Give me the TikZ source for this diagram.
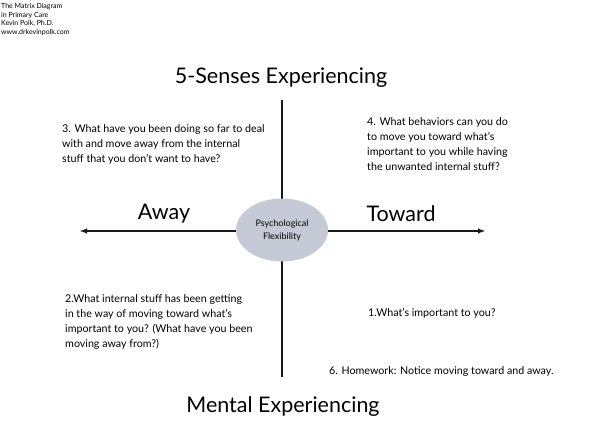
\documentclass[tikz,border=0pt]{standalone}
\usepackage{fontspec}
\setmainfont{Lato}
\usetikzlibrary{shapes.geometric}
\definecolor{flexgray}{HTML}{C5CAD6}
\tikzset{
  axis/.style={line width=1.4pt,black!90},
  heading/.style={font=\fontsize{21.5}{24}\selectfont},
  quest/.style={align=left,anchor=north west,inner sep=0pt,font=\fontsize{10.7}{15}\selectfont},
}
\begin{document}
\begin{tikzpicture}[x=1pt,y=-1pt]
			\useasboundingbox (0,0) rectangle (610,441);
			%coordinates
			\coordinate (L) at (80,231);
			\coordinate (R) at (485,231);
			\coordinate (T) at (282,100);
			\coordinate (B) at (282,377);
			%Credits
			\node[align=left,anchor=north west,inner sep=0pt,font=\fontsize{7}{8.8}\selectfont] (credit) at (1,3)
				{The Matrix Diagram\\in Primary Care\\Kevin Polk, Ph.D.\\www.drkevinpolk.com};
			%Axes
			\begin{scope}
				\draw[axis] (T) -- (B);
				\draw[axis,latex-latex] (L) -- (R);
			\end{scope}
			%Centre
			\node[ellipse,fill=flexgray,minimum width=92pt,minimum height=63pt,inner sep=0pt,align=center,font=\fontsize{9}{13}\selectfont] (flex) at (282,230) {Psychological\\Flexibility};
			%Headings
			\node[heading] (senses) at (281,78) {5-Senses Experiencing};
			\node[heading] (mental) at (283,407) {Mental Experiencing};
			\node[heading] (away) at (164,214) {Away};
			\node[heading] (toward) at (401,214) {Toward};
			%Questions
			\node[quest] (q3) at (62,124) {3. What have you been doing so far to deal\\with and move away from the internal\\stuff that you don't want to have?};
			\node[quest] (q4) at (367,117) {4. What behaviors can you do\\to move you toward what's\\important to you while having\\the unwanted internal stuff?};
			\node[quest] (q2) at (65,294) {2.What internal stuff has been getting\\in the way of moving toward what's\\important to you? (What have you been\\moving away from?)};
			\node[quest] (q1) at (368,308) {1.What's important to you?};
			\node[quest] (q6) at (329,366) {6. Homework: Notice moving toward and away.};
		\end{tikzpicture}
\end{document}
